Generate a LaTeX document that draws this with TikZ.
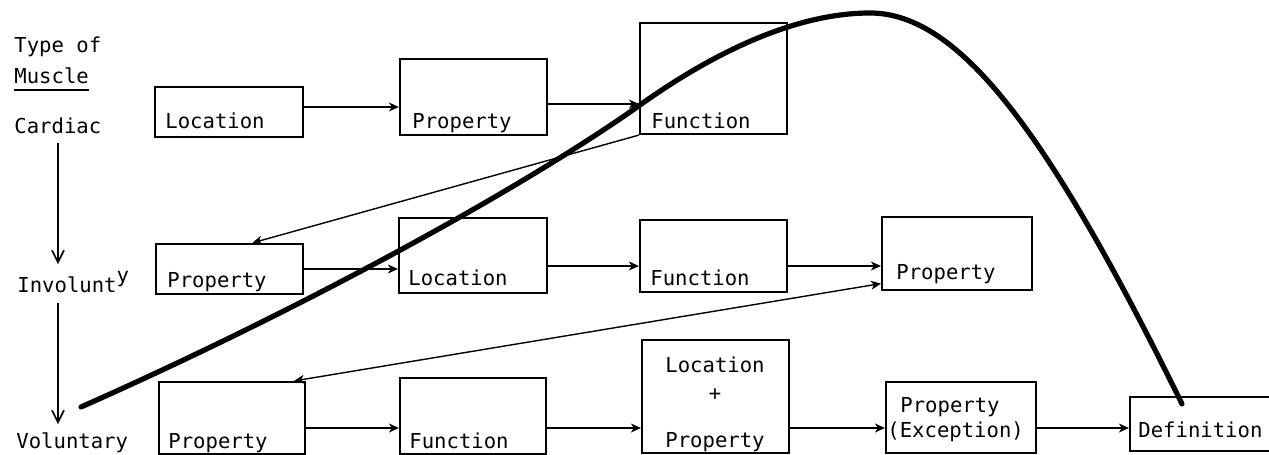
\documentclass[tikz,border=0pt]{standalone}
\usepackage{fontspec}
\newfontfamily\plt{DejaVu Sans Mono}
\usetikzlibrary{arrows.meta,fit,calc}
\begin{document}
\begin{tikzpicture}[x=0.5pt,y=-0.5pt,
  box/.style={draw, line width=1.1pt, inner sep=0pt},
  txt/.style={font=\plt\fontsize{10.3}{12}\selectfont, inner sep=0pt, anchor=base west},
  arr/.style={line width=0.7pt, -{Stealth[length=5pt,width=4.5pt,inset=1.5pt]}},
  darr/.style={line width=0.7pt, {Stealth[length=5pt,width=4.5pt,inset=1.5pt]}-{Stealth[length=5pt,width=4.5pt,inset=1.5pt]}},
  varr/.style={line width=0.8pt, -{Straight Barb[length=6pt,width=6pt]}},
  thick curve/.style={line width=2.6pt, line cap=round, line join=round}]
\useasboundingbox (0,0) rectangle (1269,455);

% left column
\node[txt] (type) at (14,52) {Type of};
\node[txt] (muscle) at (14,83) {Muscle};
\draw[line width=0.6pt] ([yshift=-3.5pt]muscle.base west) -- ([yshift=-3.5pt]muscle.base east);
\node[txt] (cardiac) at (14,133) {Cardiac};
\node[txt] (invol) at (17,292) {Involunt\raisebox{5pt}{y}};
\node[txt] (volun) at (16,448) {Voluntary};
\coordinate (xl) at (58,0);
\draw[varr] (xl |- 0,143) -- (xl |- 0,264);
\draw[varr] (xl |- 0,303) -- (xl |- 0,424);

% row 1
\node[box, fit={(155,87) (303,137)}] (b1) {};
\node[box, fit={(400,59) (547,135)}] (b2) {};
\node[box, fit={(640,23) (787,134)}] (b3) {};
\node[txt] (tb1) at (165,128) {Location};
\node[txt] (tb2) at (412,128) {Property};
\node[txt] (tb3) at (651,128) {Function};
\coordinate (r1a) at (0,107);
\coordinate (r1b) at (0,104);
\draw[arr] (b1.east |- r1a) -- (b2.west |- r1a);
\draw[arr] (b2.east |- r1b) -- (b3.west |- r1b);

% row 2
\node[box, fit={(156,244) (303,294)}] (c1) {};
\node[box, fit={(399,218) (547,293)}] (c2) {};
\node[box, fit={(640,220) (787,292)}] (c3) {};
\node[box, fit={(882,217) (1032,290)}] (c4) {};
\node[txt] (tc1) at (167,287) {Property};
\node[txt] (tc2) at (408,285) {Location};
\node[txt] (tc3) at (650,285) {Function};
\node[txt] (tc4) at (896,279) {Property};
\coordinate (r2a) at (0,269);
\coordinate (r2b) at (0,266);
\draw[arr] (c1.east |- r2a) -- (c2.west |- r2a);
\draw[arr] (c2.east |- r2b) -- (c3.west |- r2b);
\draw[arr] (c3.east |- r2b) -- (c4.west |- r2b);
\draw[arr] (b3.south west) -- ($(c1.north west)!0.653!(c1.north east)$);

% row 3
\node[box, fit={(159,382) (305,454)}] (d1) {};
\node[box, fit={(400,378) (546,454)}] (d2) {};
\node[box, fit={(642,340) (789,453)}] (d3) {};
\node[box, fit={(886,382) (1036,453)}] (d4) {};
\node[box, fit={(1130,397) (1272,451)}] (d5) {};
\node[txt] (td1) at (168,448) {Property};
\node[txt] (td2) at (409,448) {Function};
\node[txt, anchor=base] (td3a) at (715,372) {Location};
\node[txt, anchor=base] (td3b) at (715,400) {+};
\node[txt, anchor=base] (td3c) at (715,447) {Property};
\node[txt] (td4a) at (900,412) {Property};
\node[txt] (td4b) at (887,437) {(Exception)};
\node[txt] (td5) at (1138,437) {Definition};
\coordinate (r3) at (0,428);
\draw[arr] (d1.east |- r3) -- (d2.west |- r3);
\draw[arr] (d2.east |- r3) -- (d3.west |- r3);
\draw[arr] (d3.east |- r3) -- (d4.west |- r3);
\draw[arr] (d4.east |- r3) -- (d5.west |- r3);
\draw[darr] ($(d1.north west)!0.92!(d1.north east)$) -- ($(c4.north west)!0.9!(c4.south west)$);

% thick freehand curve
\coordinate (cs) at (81,407);
\coordinate (cm) at (640,105);
\coordinate (ctop) at (870,13);
\coordinate (ce) at (1182,404);
\draw[thick curve] (cs) .. controls (300,310) and (520,190) .. (cm)
  .. controls (720,48) and (800,13) .. (ctop)
  .. controls (960,13) and (1050,135) .. (ce);
\end{tikzpicture}
\end{document}
